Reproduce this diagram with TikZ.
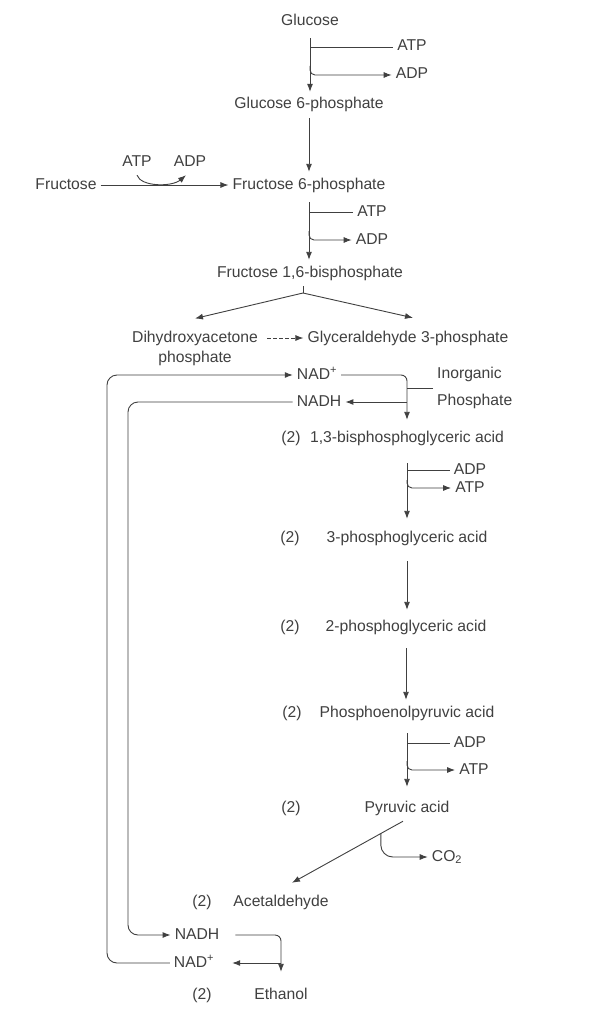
\documentclass[tikz,border=0pt]{standalone}
\usepackage{fontspec}
\setmainfont{Liberation Sans}
\usepackage{tikz}
\usetikzlibrary{arrows.meta,calc}
\definecolor{ink}{gray}{0.25}

\begin{document}
\begin{tikzpicture}[x=1pt,y=-1pt,
  lbl/.style={text=ink, font=\fontsize{15.7}{20}\selectfont, inner xsep=4pt, inner ysep=6pt, text height=11pt, text depth=3pt},
  arr/.style={draw=ink, line width=0.9pt, -{Latex[length=8pt,width=6pt]}},
  ln/.style={draw=ink, line width=0.9pt}]
\useasboundingbox (0,0) rectangle (610,1014);
\fill[white] (0,0) rectangle (610,1014);

\node[lbl] (glc) at (310,22) {Glucose};
\node[lbl] (atpA) at (412,47) {ATP};
\node[lbl] (adpA) at (412,75) {ADP};
\node[lbl] (g6p) at (309,105) {Glucose 6-phosphate};
\node[lbl] (fru) at (66,185) {Fructose};
\node[lbl] (atpF) at (137,162) {ATP};
\node[lbl] (adpF) at (190,162) {ADP};
\node[lbl] (f6p) at (309,185) {Fructose 6-phosphate};
\node[lbl] (atpB) at (372,212) {ATP};
\node[lbl] (adpB) at (372,240) {ADP};
\node[lbl] (fbp) at (310,273) {Fructose 1,6-bisphosphate};
\node[lbl, text height=, text depth=, align=center] (dhap) at (195,348) {Dihydroxyacetone\\phosphate};
\node[lbl] (gap) at (408,338) {Glyceraldehyde 3-phosphate};
\node[lbl] (nadA) at (317,375) {NAD\textsuperscript{+}};
\node[lbl] (nadhA) at (319,402) {NADH};
\node[lbl, text height=, text depth=, align=left, anchor=west] (pi) at (433,388) {Inorganic\\[7pt]Phosphate};
\node[lbl] (two1) at (291,438) {(2)};
\node[lbl] (bpg) at (407,438) {1,3-bisphosphoglyceric acid};
\node[lbl] (adpC) at (470,470) {ADP};
\node[lbl] (atpC) at (470,488) {ATP};
\node[lbl] (two2) at (290,538) {(2)};
\node[lbl] (pga3) at (407,538) {3-phosphoglyceric acid};
\node[lbl] (two3) at (290,627) {(2)};
\node[lbl] (pga2) at (406,627) {2-phosphoglyceric acid};
\node[lbl] (two4) at (292,713) {(2)};
\node[lbl] (pep) at (407,713) {Phosphoenolpyruvic acid};
\node[lbl] (adpD) at (470,743) {ADP};
\node[lbl] (atpD) at (474,770) {ATP};
\node[lbl] (two5) at (291,808) {(2)};
\node[lbl] (pyr) at (407,808) {Pyruvic acid};
\node[lbl] (co2) at (447,857) {CO\textsubscript{2}};
\node[lbl] (two6) at (202,902) {(2)};
\node[lbl] (acet) at (281,902) {Acetaldehyde};
\node[lbl] (nadhB) at (197,935) {NADH};
\node[lbl] (nadB) at (194,963) {NAD\textsuperscript{+}};
\node[lbl] (two7) at (202,995) {(2)};
\node[lbl] (eth) at (281,995) {Ethanol};

\draw[arr, shorten <=3pt] (glc) -- (glc |- g6p.north);
\draw[ln] (atpA.west -| glc) -- (atpA.west);
\draw[arr, rounded corners=5pt] ([yshift=9pt]adpA.west -| glc) |- (adpA.west);
\draw[arr] (g6p) -- (g6p |- f6p.north);
\draw[arr] (fru) -- (f6p);
\draw[arr] (atpF.south) .. controls (141,187) and (172,187) .. ([xshift=-4pt]adpF.south);
\draw[arr, shorten <=4pt] (f6p) -- (f6p |- fbp.north);
\draw[ln] (atpB.west -| f6p) -- (atpB.west);
\draw[arr, rounded corners=5pt] ([yshift=9pt]adpB.west -| f6p) |- (adpB.west);

\coordinate (split) at (303,293);
\draw[ln] (fbp.south -| split) -- (split);
\draw[arr] (split) -- ([yshift=6pt]dhap.north);
\draw[arr] (split) -- ([xshift=5pt,yshift=7pt]gap.north);
\draw[arr, dash pattern=on 4pt off 2pt, shorten <=5pt] (dhap.east |- gap) -- (gap.west);

\draw[arr, rounded corners=6pt, shorten >=5pt] (nadA.east) -| (bpg.north);
\draw[arr] (nadhA.east -| bpg) -- (nadhA.east);
\draw[ln] (pi.west) -- (pi.west -| bpg);
\draw[arr, rounded corners=10pt] (nadB.west) -| (107,375) -- (nadA.west);
\draw[arr, rounded corners=10pt] (nadhA.west) -| (128,935) -- (nadhB.west);

\draw[arr, shorten <=12pt, shorten >=6pt] (bpg) -- (bpg |- pga3.north);
\draw[ln] (adpC.west -| bpg) -- (adpC.west);
\draw[arr, rounded corners=5pt] ([yshift=8pt]atpC.west -| bpg) |- (atpC.west);
\draw[arr, shorten <=10pt, shorten >=4pt] (pga3) -- (pga3 |- pga2.north);
\draw[arr, shorten <=8pt] (pga2) -- (pga2 |- pep.north);
\draw[arr, shorten <=7pt, shorten >=8pt] (pep) -- (pep |- pyr.north);
\draw[ln] (adpD.west -| pep) -- (adpD.west);
\draw[arr, rounded corners=5pt] ([yshift=9pt]atpD.west -| pep) |- (atpD.west);

\draw[arr] ([xshift=-4pt]pyr.south) -- ([xshift=11pt,yshift=6pt]acet.north);
\draw[arr, rounded corners=12pt] ($([xshift=-4pt]pyr.south)!0.2!([xshift=11pt,yshift=6pt]acet.north)$) |- (co2.west);

\draw[arr, rounded corners=6pt, shorten <=12pt, shorten >=10pt] (nadhB.east) -| (eth.north);
\draw[arr, shorten >=14pt] (nadB.east -| eth) -- (nadB.east);
\end{tikzpicture}
\end{document}
